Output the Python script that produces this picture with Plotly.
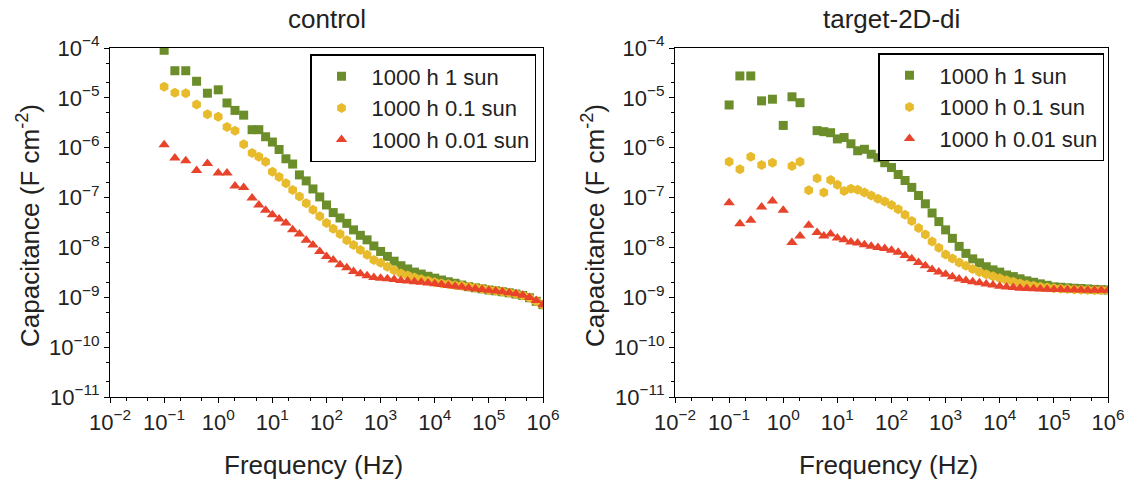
import plotly.graph_objects as go

# ---------------- data ----------------
freq = [0.1, 0.158, 0.251, 0.398, 0.631, 1.0, 1.45, 2.04, 2.95, 4.22, 5.62, 7.5,
        10, 13.3, 17.8, 23.7, 31.6, 42.2, 56.2, 75, 100, 133, 178, 237, 316, 422,
        562, 750, 1000, 1333, 1778, 2371, 3162, 4217, 5623, 7499, 1e4, 13335,
        17783, 23714, 31623, 42170, 56234, 74989, 1e5, 133352, 177828, 237137,
        316228, 421697, 562341, 749894, 1e6]

series_names = ["1000 h 1 sun", "1000 h 0.1 sun", "1000 h 0.01 sun"]
panel_titles = ["control", "target-2D-di"]

control_1sun = [9e-5, 3.5e-5, 3.5e-5, 2.15e-5, 1.24e-5, 1.45e-5, 7.9e-6, 5.6e-6, 4.5e-6,
                2.3e-6, 2.3e-6, 1.66e-6, 1.3e-6, 9.2e-7, 6.0e-7, 4.7e-7, 2.85e-7, 2.16e-7,
                1.49e-7, 1.03e-7, 7.1e-8, 5.0e-8, 3.9e-8, 3.04e-8, 2.25e-8, 1.75e-8,
                1.42e-8, 1.07e-8, 8.3e-9, 6.6e-9, 5.3e-9, 4.3e-9, 3.7e-9, 3.2e-9, 2.92e-9,
                2.64e-9, 2.42e-9, 2.22e-9, 2.05e-9, 1.91e-9, 1.76e-9, 1.63e-9, 1.55e-9,
                1.48e-9, 1.40e-9, 1.35e-9, 1.29e-9, 1.23e-9, 1.16e-9, 1.09e-9, 9.8e-10,
                8.3e-10, 7.1e-10]
control_01sun = [1.67e-5, 1.27e-5, 1.23e-5, 7.4e-6, 4.7e-6, 4.2e-6, 2.6e-6, 2.2e-6, 1.17e-6,
                 7.8e-7, 6.6e-7, 5.2e-7, 3.3e-7, 2.6e-7, 1.94e-7, 1.42e-7, 1.05e-7, 7.7e-8,
                 5.7e-8, 4.2e-8, 3.1e-8, 2.36e-8, 1.87e-8, 1.4e-8, 1.12e-8, 8.9e-9, 7.1e-9,
                 5.6e-9, 4.9e-9, 4.1e-9, 3.5e-9, 3.0e-9, 2.75e-9, 2.5e-9, 2.3e-9, 2.15e-9,
                 2.0e-9, 1.9e-9, 1.82e-9, 1.75e-9, 1.7e-9, 1.62e-9, 1.55e-9, 1.48e-9,
                 1.40e-9, 1.35e-9, 1.29e-9, 1.23e-9, 1.16e-9, 1.09e-9, 9.8e-10, 8.3e-10,
                 7.1e-10]
control_001sun = [1.15e-6, 6.2e-7, 5.5e-7, 3.5e-7, 4.8e-7, 3.1e-7, 3.1e-7, 1.7e-7, 1.6e-7,
                  9.8e-8, 7.1e-8, 5.6e-8, 4.5e-8, 3.7e-8, 3.1e-8, 2.25e-8, 1.86e-8, 1.4e-8,
                  1.12e-8, 8.3e-9, 6.6e-9, 5.6e-9, 4.5e-9, 3.9e-9, 3.3e-9, 2.95e-9, 2.7e-9,
                  2.5e-9, 2.4e-9, 2.35e-9, 2.28e-9, 2.18e-9, 2.12e-9, 2.05e-9, 2.0e-9,
                  1.93e-9, 1.86e-9, 1.8e-9, 1.73e-9, 1.66e-9, 1.6e-9, 1.53e-9, 1.48e-9,
                  1.43e-9, 1.38e-9, 1.33e-9, 1.29e-9, 1.24e-9, 1.18e-9, 1.1e-9, 9.9e-10,
                  8.6e-10, 7.1e-10]

target_1sun = [7.2e-6, 2.75e-5, 2.75e-5, 8.7e-6, 9.4e-6, 2.8e-6, 1.05e-5, 8.0e-6, None,
               2.2e-6, 2.1e-6, 2.0e-6, 1.5e-6, 1.6e-6, 1.2e-6, 8.7e-7, 9.3e-7, 7.4e-7,
               6.3e-7, 5.0e-7, 4.0e-7, 2.9e-7, 2.2e-7, 1.6e-7, 1.1e-7, 7.5e-8, 4.9e-8,
               3.3e-8, 2.25e-8, 1.52e-8, 1.05e-8, 7.6e-9, 5.9e-9, 4.9e-9, 4.1e-9, 3.55e-9,
               3.2e-9, 2.8e-9, 2.6e-9, 2.35e-9, 2.14e-9, 2.0e-9, 1.86e-9, 1.74e-9, 1.62e-9,
               1.59e-9, 1.55e-9, 1.52e-9, 1.5e-9, 1.47e-9, 1.44e-9, 1.42e-9, 1.4e-9]
target_01sun = [5.2e-7, 3.7e-7, 6.6e-7, 4.5e-7, 5.0e-7, None, 4.3e-7, 5.2e-7, 1.4e-7,
                2.43e-7, 1.26e-7, 2.26e-7, 1.8e-7, 1.36e-7, 1.5e-7, 1.44e-7, 1.27e-7,
                1.1e-7, 9.5e-8, 8.3e-8, 7.1e-8, 5.8e-8, 4.5e-8, 3.4e-8, 2.45e-8, 1.82e-8,
                1.32e-8, 9.8e-9, 7.2e-9, 6.0e-9, 5.0e-9, 4.3e-9, 3.7e-9, 3.2e-9, 2.9e-9,
                2.63e-9, 2.4e-9, 2.2e-9, 2.04e-9, 1.9e-9, 1.78e-9, 1.7e-9, 1.62e-9, 1.57e-9,
                1.52e-9, 1.49e-9, 1.46e-9, 1.44e-9, 1.42e-9, 1.4e-9, 1.39e-9, 1.38e-9,
                1.38e-9]
target_001sun = [7.9e-8, 3.0e-8, 3.5e-8, 6.5e-8, 8.5e-8, 5.6e-8, 1.26e-8, 1.7e-8, 2.8e-8,
                 2.0e-8, 1.7e-8, 1.85e-8, 1.55e-8, 1.42e-8, 1.29e-8, 1.23e-8, 1.13e-8,
                 1.05e-8, 1.0e-8, 9.5e-9, 8.8e-9, 8.0e-9, 6.9e-9, 5.9e-9, 5.0e-9, 4.3e-9,
                 3.6e-9, 3.2e-9, 2.9e-9, 2.57e-9, 2.34e-9, 2.18e-9, 2.04e-9, 1.95e-9,
                 1.85e-9, 1.77e-9, 1.67e-9, 1.61e-9, 1.57e-9, 1.52e-9, 1.5e-9, 1.48e-9,
                 1.46e-9, 1.45e-9, 1.44e-9, 1.43e-9, 1.42e-9, 1.41e-9, 1.4e-9, 1.39e-9,
                 1.39e-9, 1.38e-9, 1.38e-9]

x_tickvals = [1e-2, 1e-1, 1e0, 1e1, 1e2, 1e3, 1e4, 1e5, 1e6]
x_ticktext = ["10<sup>−2</sup>", "10<sup>−1</sup>", "10<sup>0</sup>", "10<sup>1</sup>",
              "10<sup>2</sup>", "10<sup>3</sup>", "10<sup>4</sup>", "10<sup>5</sup>",
              "10<sup>6</sup>"]
y_tickvals = [1e-11, 1e-10, 1e-9, 1e-8, 1e-7, 1e-6, 1e-5, 1e-4]
y_ticktext = ["10<sup>−11</sup>", "10<sup>−10</sup>", "10<sup>−9</sup>", "10<sup>−8</sup>",
              "10<sup>−7</sup>", "10<sup>−6</sup>", "10<sup>−5</sup>", "10<sup>−4</sup>"]

# ---------------- style ----------------
FONT = "Liberation Sans, Arial, sans-serif"
colors = ["#6b8e2a", "#e8bb2c", "#e8432b"]
symbols = ["square", "hexagon", "triangle-up"]
sizes = [9, 10, 10]

W, H = 1131, 486
left_px = [(110, 543), (675, 1108)]
top_px, bot_px = 48, 397
xtitle_cx = [314, 888]

fig = go.Figure()

panels = [
    [control_1sun, control_01sun, control_001sun],
    [target_1sun, target_01sun, target_001sun],
]
for p, data in enumerate(panels):
    xa = "x" if p == 0 else "x2"
    ya = "y" if p == 0 else "y2"
    lg = "legend" if p == 0 else "legend2"
    for i, vals in enumerate(data):
        fig.add_trace(go.Scatter(
            x=freq, y=vals, mode="markers", name=series_names[i],
            xaxis=xa, yaxis=ya, legend=lg,
            marker=dict(symbol=symbols[i], size=sizes[i], color=colors[i],
                        line=dict(width=0)),
        ))

axis_common = dict(
    type="log", showgrid=False, zeroline=False, showline=True, linecolor="black",
    linewidth=1.2, mirror=True, ticks="outside", ticklen=5, tickwidth=1,
    tickcolor="black", tickfont=dict(family=FONT, size=22, color="#222"),
    minor=dict(ticks="outside", ticklen=3, tickcolor="black", showgrid=False),
    automargin=False,
)

layout = dict(
    width=W, height=H, margin=dict(l=0, r=0, t=0, b=0, autoexpand=False),
    paper_bgcolor="white", plot_bgcolor="white",
    font=dict(family=FONT, color="#222"),
    annotations=[],
)
for p in range(2):
    x0, x1 = left_px[p]
    sx = "" if p == 0 else "2"
    layout["xaxis" + sx] = dict(axis_common, domain=[x0 / W, x1 / W], range=[-2, 6],
                                tickvals=x_tickvals, ticktext=x_ticktext,
                                anchor="y" + sx)
    layout["yaxis" + sx] = dict(axis_common, domain=[1 - bot_px / H, 1 - top_px / H],
                                range=[-11, -4], tickvals=y_tickvals,
                                ticktext=y_ticktext, anchor="x" + sx)
    # panel title
    layout["annotations"].append(dict(
        text=panel_titles[p], x=(x0 + x1) / 2 / W, y=1 - 19 / H, xref="paper",
        yref="paper", showarrow=False, xanchor="center", yanchor="middle",
        font=dict(family=FONT, size=26, color="#222")))
    # x axis title
    layout["annotations"].append(dict(
        text="Frequency (Hz)", x=xtitle_cx[p] / W, y=1 - 465 / H, xref="paper",
        yref="paper", showarrow=False, xanchor="center", yanchor="middle",
        font=dict(family=FONT, size=26, color="#222")))
    # y axis title
    layout["annotations"].append(dict(
        text="Capacitance (F cm<sup>-2</sup>)", x=(x0 - 82) / W,
        y=1 - 226 / H, xref="paper", yref="paper",
        showarrow=False, xanchor="center", yanchor="middle", textangle=-90,
        font=dict(family=FONT, size=26, color="#222")))

legend_common = dict(
    bgcolor="white", bordercolor="black", borderwidth=1.5,
    font=dict(family=FONT, size=22, color="#222"),
    xanchor="right", yanchor="top", itemwidth=50, tracegroupgap=0,
)
layout["legend"] = dict(legend_common, x=536 / W, y=1 - 54 / H)
layout["legend2"] = dict(legend_common, x=1104 / W, y=1 - 53 / H)
layout["showlegend"] = True

fig.update_layout(**layout)
fig.write_html("out.html")
